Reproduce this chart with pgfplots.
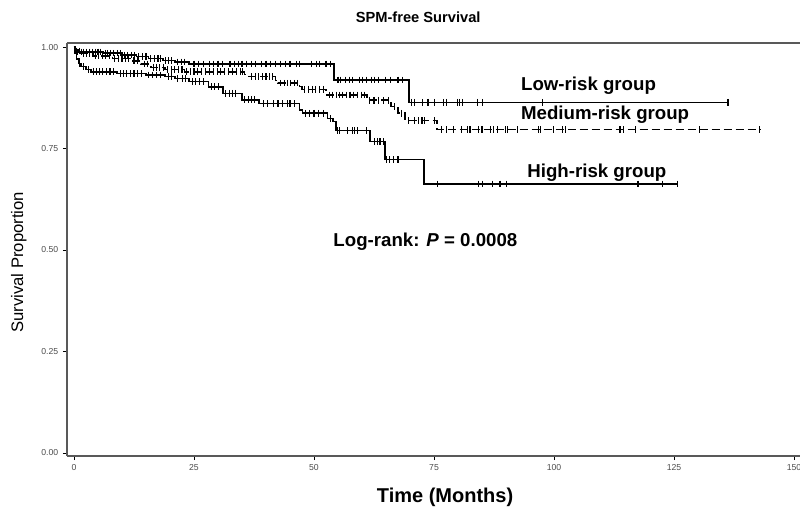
\documentclass[border=0pt]{standalone}
\usepackage{fontspec}
\setmainfont{Liberation Sans}
\usepackage{pgfplots}
\pgfplotsset{compat=1.18}
\begin{document}
\begin{tikzpicture}
\useasboundingbox (-50.25pt,-47.25pt) rectangle (549.75pt,342pt);
\begin{axis}[
    at={(0,0)}, anchor=south west,
    scale only axis, width=549.75pt, height=309.75pt,
    xmin=-1.458, xmax=151.25, ymin=-0.0074, ymax=1.0099,
    axis x line=box, axis y line*=left,
    xtick={0,25,...,150}, ytick={0,0.25,0.5,0.75,1},
    xtick pos=left, ytick pos=left, tick align=outside,
    yticklabel style={/pgf/number format/.cd,fixed,fixed zerofill,precision=2},
    /pgf/number format/assume math mode=true,
    axis line style={gray!70!black, line width=1.2pt},
    tick style={black, line width=0.6pt}, major tick length=3pt,
    tick label style={font=\fontsize{6.5}{7.5}\selectfont, text=gray!60!black},
    clip=false,
]
% low-risk group
\addplot[const plot, black, line width=1.1pt] coordinates {
 (0,1.0)(0.3,0.993)(1,0.988)(6,0.985)(10,0.980)(13,0.976)(15.5,0.972)
 (18.5,0.967)(21,0.963)(24,0.958)(54.2,0.919)(69.8,0.864)(136.25,0.864)
};
\addplot[only marks, mark=|, mark size=2.5pt, black, mark options={line width=0.8pt}] coordinates {
 (0.8,0.988)(1.5,0.988)(2,0.988)(2.6,0.988)(3.2,0.988)(3.8,0.988)(4.4,0.988)(5,0.988)(5.6,0.988)
 (6.5,0.985)(7,0.985)(7.6,0.985)(8.2,0.985)(9,0.985)(9.6,0.985)
 (10.6,0.980)(11.2,0.980)(12,0.980)(12.6,0.980)
 (13.5,0.976)(14.2,0.976)(15,0.976)
 (16,0.972)(16.8,0.972)(17.5,0.972)(18,0.972)
 (19,0.967)(19.6,0.967)(20.4,0.967)
 (21.6,0.963)(22.3,0.963)(23,0.963)
 (25,0.958)(26,0.958)(27,0.958)(28.2,0.958)(29,0.958)(30,0.958)(31,0.958)(32.5,0.958)
 (33.5,0.958)(34.2,0.958)(35,0.958)(36,0.958)(37,0.958)(37.8,0.958)(39,0.958)(40,0.958)
 (41,0.958)(42,0.958)(43,0.958)(44,0.958)(45,0.958)(46.3,0.958)(47,0.958)(49.5,0.958)
 (50.5,0.958)(51.2,0.958)(52.5,0.958)(53.5,0.958)
 (55,0.919)(55.6,0.919)(56.5,0.919)(57.3,0.919)(58.1,0.919)(59.4,0.919)(60.2,0.919)(61,0.919)
 (61.9,0.919)(62.7,0.919)(63.5,0.919)(64.8,0.919)(66,0.919)(67.5,0.919)(68.5,0.919)
 (70.4,0.864)(71,0.864)(72.7,0.864)(73.75,0.864)(75.2,0.864)(76.9,0.864)(77.7,0.864)(79.8,0.864)
 (80.4,0.864)(81,0.864)(84,0.864)(85.2,0.864)(97.7,0.864)(136.25,0.864)
};
% medium-risk group
\addplot[const plot, black, line width=1.1pt, dash pattern=on 6pt off 3pt] coordinates {
 (0,1.0)(0.3,0.99)(1.5,0.984)(4,0.978)(8,0.972)(12,0.966)(14,0.958)(16,0.95)(19,0.944)
 (23,0.939)(35.5,0.932)(36.5,0.927)(42,0.918)(42.5,0.911)(47,0.903)(47.5,0.896)(52.5,0.882)
 (61,0.869)(66,0.853)(67.5,0.837)(69,0.819)(75.6,0.797)(143,0.797)
};
\addplot[only marks, mark=|, mark size=2.5pt, black, mark options={line width=0.8pt}] coordinates {
 (0.6,0.99)(1.2,0.99)(2,0.984)(2.6,0.984)(3.3,0.984)(4.5,0.978)(5.2,0.978)(5.9,0.978)(6.6,0.978)
 (7.3,0.978)(8.5,0.972)(9.2,0.972)(10,0.972)(10.7,0.972)(11.4,0.972)(12.5,0.966)(13.2,0.966)
 (14.6,0.958)(15.3,0.958)(16.5,0.95)(17.2,0.95)(17.9,0.95)(18.6,0.95)(19.5,0.944)(20.3,0.944)
 (21,0.944)(21.8,0.944)(22.5,0.944)(23.5,0.939)(24.3,0.939)(25,0.939)(25.8,0.939)(26.6,0.939)
 (27.4,0.939)(28.2,0.939)(29,0.939)(29.8,0.939)(30.6,0.939)(31.4,0.939)(32.2,0.939)(33,0.939)
 (33.8,0.939)(34.6,0.939)(35.2,0.939)(37,0.927)(37.8,0.927)(38.5,0.927)(39.3,0.927)(40,0.927)
 (40.7,0.927)(41.4,0.927)(43,0.911)(43.8,0.911)(44.5,0.911)(45.2,0.911)(46,0.911)(46.6,0.911)
 (48,0.896)(48.8,0.896)(49.6,0.896)(50.4,0.896)(51.2,0.896)(52,0.896)
 (53.2,0.882)(53.9,0.882)(54.6,0.882)(55.3,0.882)(56,0.882)(56.7,0.882)(57.5,0.882)(58.2,0.882)
 (59,0.882)(59.8,0.882)(60.5,0.882)
 (61.5,0.869)(62.5,0.869)(63.5,0.869)(64.5,0.869)(65.5,0.869)
 (66.8,0.853)(68.2,0.837)
 (69.6,0.819)(71,0.819)(71.7,0.819)(72.5,0.819)(73.1,0.819)(75.2,0.819)
 (76.5,0.797)(77.7,0.797)(79,0.797)(80.8,0.797)(81.9,0.797)(82.5,0.797)(84.2,0.797)(85,0.797)
 (86.7,0.797)(87.3,0.797)(88.3,0.797)(89.8,0.797)(90.4,0.797)(92.3,0.797)(96.7,0.797)(97.1,0.797)
 (99.8,0.797)(101.7,0.797)(102.3,0.797)(113.75,0.797)(114.4,0.797)(116.9,0.797)(130.4,0.797)
 (142.9,0.797)
};
% high-risk group
\addplot[const plot, black, line width=1.1pt] coordinates {
 (0,1.0)(0.2,0.985)(0.5,0.97)(1,0.96)(1.5,0.952)(2.5,0.944)(3.5,0.939)(9,0.935)(15,0.931)
 (19,0.927)(21,0.923)(24,0.915)(28,0.902)(31,0.886)(35,0.870)(38.5,0.861)(47,0.845)(47.6,0.837)
 (52.8,0.824)(54,0.816)(54.6,0.794)(61.7,0.767)(64.8,0.723)(72.9,0.663)(125.7,0.663)
};
\addplot[only marks, mark=|, mark size=2.5pt, black, mark options={line width=0.8pt}] coordinates {
 (1.2,0.96)(2,0.952)(3,0.944)(4,0.939)(4.7,0.939)(5.4,0.939)(6,0.939)(6.8,0.939)(7.5,0.939)
 (8.2,0.939)(9.6,0.935)(10.3,0.935)(11,0.935)(11.8,0.935)(12.5,0.935)(13.2,0.935)(14,0.935)
 (15.6,0.931)(16.4,0.931)(17.2,0.931)(18,0.931)(19.6,0.927)(20.4,0.927)(21.6,0.923)(22.6,0.923)
 (23.3,0.923)(24.6,0.915)(25.3,0.915)(26.2,0.915)(27,0.915)(28.6,0.902)(29.3,0.902)(30.2,0.902)
 (31.6,0.886)(32.3,0.886)(33,0.886)(33.7,0.886)(35.6,0.870)(36.3,0.870)(37,0.870)(37.7,0.870)
 (39.4,0.861)(40.4,0.861)(41.5,0.861)(42.5,0.861)(43.5,0.861)(44.4,0.861)(45,0.861)(46,0.861)
 (48.2,0.837)(49,0.837)(50,0.837)(51,0.837)(52,0.837)(53.4,0.824)
 (54.8,0.794)(55.4,0.794)(56.9,0.794)(58.1,0.794)(58.5,0.794)(59,0.794)(61,0.794)
 (62.7,0.767)(63.3,0.767)(63.75,0.767)(64.4,0.767)
 (65.2,0.723)(65.8,0.723)(66.5,0.723)(67.5,0.723)
 (75.8,0.663)(84.2,0.663)(85.2,0.663)(87.1,0.663)(88.75,0.663)(90.2,0.663)(117.5,0.663)
 (122.7,0.663)(125.7,0.663)
};
\node[font=\bfseries\fontsize{11}{13}\selectfont] at (axis cs:71.7,1.074) {SPM-free Survival};
\node[font=\fontsize{12.5}{14}\selectfont, rotate=90] at (axis cs:-11.5,0.47) {Survival Proportion};
\node[font=\bfseries\fontsize{15}{17}\selectfont] at (axis cs:77.3,-0.108) {Time (Months)};
\node[font=\bfseries\fontsize{14}{16}\selectfont, anchor=west, inner sep=0pt] at (axis cs:93.1,0.904) {Low-risk group};
\node[font=\bfseries\fontsize{14}{16}\selectfont, anchor=west, inner sep=0pt] at (axis cs:93.1,0.834) {Medium-risk group};
\node[font=\bfseries\fontsize{14}{16}\selectfont, anchor=west, inner sep=0pt] at (axis cs:94.4,0.690) {High-risk group};
\node[font=\bfseries\fontsize{14}{16}\selectfont, anchor=west, inner sep=0pt] at (axis cs:54,0.520) {Log-rank: \textit{P} = 0.0008};
\end{axis}
\end{tikzpicture}
\end{document}
